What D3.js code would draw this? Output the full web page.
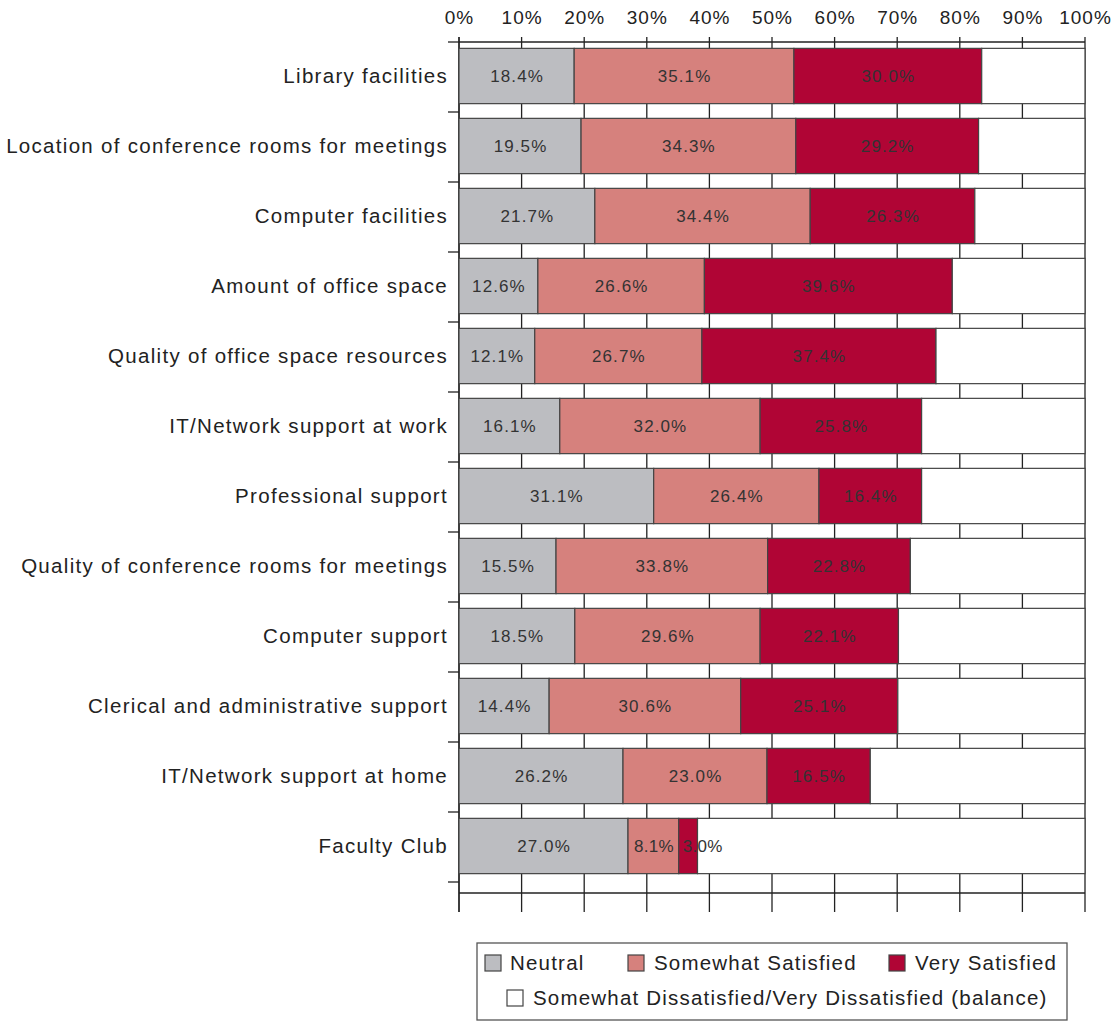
<!DOCTYPE html>
<html>
<head>
<meta charset="utf-8">
<script src="https://cdn.jsdelivr.net/npm/d3@7"></script>
<style>
  body { margin: 0; background: #fff; }
  svg { font-family: "Liberation Sans", Arial, Helvetica, sans-serif; }
</style>
</head>
<body>
<svg id="chart" width="1113" height="1022"></svg>
<script>
// Satisfaction with facilities and support, stacked percentages
const categories = [
  'Library facilities',
  'Location of conference rooms for meetings',
  'Computer facilities',
  'Amount of office space',
  'Quality of office space resources',
  'IT/Network support at work',
  'Professional support',
  'Quality of conference rooms for meetings',
  'Computer support',
  'Clerical and administrative support',
  'IT/Network support at home',
  'Faculty Club'
];
const neutral = [18.4, 19.5, 21.7, 12.6, 12.1, 16.1, 31.1, 15.5, 18.5, 14.4, 26.2, 27.0];
const somewhat = [35.1, 34.3, 34.4, 26.6, 26.7, 32.0, 26.4, 33.8, 29.6, 30.6, 23.0, 8.1];
const very = [30.0, 29.2, 26.3, 39.6, 37.4, 25.8, 16.4, 22.8, 22.1, 25.1, 16.5, 3.0];
const seriesNames = ['Neutral', 'Somewhat Satisfied', 'Very Satisfied', 'Somewhat Dissatisfied/Very Dissatisfied (balance)'];
const seriesColors = ['#bcbdc1', '#d6817d', '#b00535', '#ffffff'];
const xTicks = [0, 10, 20, 30, 40, 50, 60, 70, 80, 90, 100];

const svg = d3.select('#chart');
const plotLeft = 459, plotRight = 1085, plotTop = 41, plotBottom = 881;

const x = d3.scaleLinear().domain([0, 100]).range([plotLeft, plotRight]);
const y = d3.scaleBand().domain(categories).range([plotTop, plotBottom]).paddingInner(0.21).paddingOuter(0.105);
const band = d3.scaleBand().domain(categories).range([plotTop, plotBottom]);

// rows for stacking
const rows = categories.map((c, i) => ({
  cat: c,
  neutral: neutral[i],
  somewhat: somewhat[i],
  very: very[i],
  balance: 100 - neutral[i] - somewhat[i] - very[i]
}));
const stack = d3.stack().keys(['neutral', 'somewhat', 'very', 'balance']);
const layers = stack(rows);

// vertical gridlines
svg.append('g')
  .selectAll('line')
  .data(xTicks)
  .join('line')
  .attr('x1', d => x(d)).attr('x2', d => x(d))
  .attr('y1', 37).attr('y2', 912)
  .attr('stroke', '#222').attr('stroke-width', 1.3);

// top and bottom horizontal lines
[42, 893].forEach(yy => {
  svg.append('line')
    .attr('x1', plotLeft).attr('x2', plotRight)
    .attr('y1', yy).attr('y2', yy)
    .attr('stroke', '#222').attr('stroke-width', 1.3);
});

// left axis line and band ticks
svg.append('line')
  .attr('x1', plotLeft).attr('x2', plotLeft)
  .attr('y1', 37).attr('y2', 912)
  .attr('stroke', '#222').attr('stroke-width', 1.3);
svg.append('g')
  .selectAll('line')
  .data(categories.concat(['__end']))
  .join('line')
  .attr('x1', plotLeft - 11).attr('x2', plotLeft)
  .attr('y1', (d, i) => i < categories.length ? band(d) + 1 : plotBottom + 1)
  .attr('y2', (d, i) => i < categories.length ? band(d) + 1 : plotBottom + 1)
  .attr('stroke', '#222').attr('stroke-width', 1.3);

// bars
const g = svg.append('g');
layers.forEach((layer, li) => {
  g.append('g')
    .selectAll('rect')
    .data(layer)
    .join('rect')
    .attr('x', d => x(d[0]))
    .attr('y', d => y(d.data.cat))
    .attr('width', d => x(d[1]) - x(d[0]))
    .attr('height', y.bandwidth())
    .attr('fill', seriesColors[li])
    .attr('stroke', '#444')
    .attr('stroke-width', 1.2);
});

// value labels (tiny segments get a left-anchored label that runs past the segment)
layers.slice(0, 3).forEach(layer => {
  g.append('g')
    .selectAll('text')
    .data(layer)
    .join('text')
    .each(function (d) {
      const w = x(d[1]) - x(d[0]);
      const small = w < 30;
      d3.select(this)
        .attr('x', small ? x(d[0]) + 4 : x((d[0] + d[1]) / 2) + 0.5)
        .attr('text-anchor', small ? 'start' : 'middle')
        .attr('letter-spacing', w < 60 ? 0.3 : 1.1);
    })
    .attr('y', d => y(d.data.cat) + y.bandwidth() / 2)
    .attr('dy', '0.35em')
    .attr('font-size', 17)
    .attr('fill', '#333')
    .text(d => (d[1] - d[0]).toFixed(1) + '%');
});

// category labels
svg.append('g')
  .selectAll('text')
  .data(categories)
  .join('text')
  .attr('x', 448)
  .attr('y', d => y(d) + y.bandwidth() / 2)
  .attr('dy', '0.35em')
  .attr('text-anchor', 'end')
  .attr('font-size', 20.5)
  .attr('letter-spacing', 1.3)
  .attr('fill', '#222')
  .text(d => d);

// top tick labels
svg.append('g')
  .selectAll('text')
  .data(xTicks)
  .join('text')
  .attr('x', d => x(d) + 0.5)
  .attr('y', 17)
  .attr('dy', '0.35em')
  .attr('text-anchor', 'middle')
  .attr('font-size', 19)
  .attr('letter-spacing', 1)
  .attr('fill', '#222')
  .text(d => d + '%');

// legend
const legend = svg.append('g');
legend.append('rect')
  .attr('x', 477).attr('y', 943)
  .attr('width', 590).attr('height', 77)
  .attr('fill', '#fff').attr('stroke', '#555').attr('stroke-width', 1.3);
const legendPos = [
  { sx: 485, tx: 510, y: 963 },
  { sx: 628, tx: 654, y: 963 },
  { sx: 889, tx: 915, y: 963 },
  { sx: 507, tx: 533, y: 998 }
];
seriesNames.forEach((name, i) => {
  const p = legendPos[i];
  legend.append('rect')
    .attr('x', p.sx).attr('y', p.y - 8)
    .attr('width', 16).attr('height', 16)
    .attr('fill', seriesColors[i])
    .attr('stroke', '#444').attr('stroke-width', 1.2);
  legend.append('text')
    .attr('x', p.tx).attr('y', p.y)
    .attr('dy', '0.35em')
    .attr('font-size', 20.5)
    .attr('letter-spacing', 1.2)
    .attr('fill', '#222')
    .text(name);
});
</script>
</body>
</html>
